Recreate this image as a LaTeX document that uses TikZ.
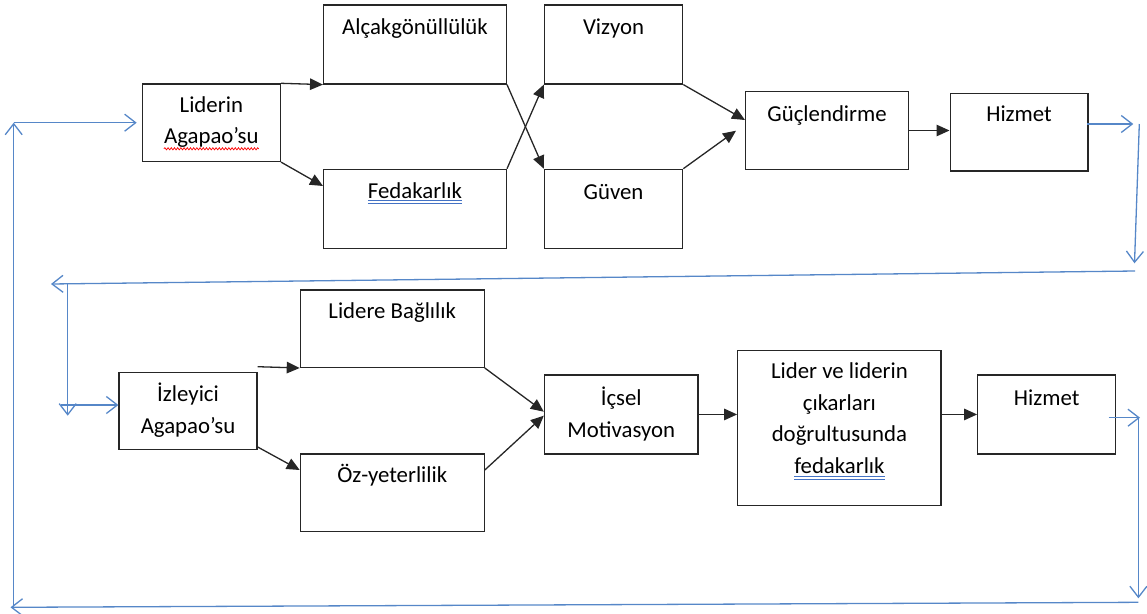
\documentclass[tikz,border=0pt]{standalone}
\usepackage{fontspec}
\setmainfont{Carlito}
\usetikzlibrary{arrows.meta,decorations.pathmorphing}
\definecolor{conn}{RGB}{86,135,200}
\definecolor{ulblue}{RGB}{68,114,196}
\begin{document}
\begin{tikzpicture}[x=1pt,y=-1pt,
  box/.style={draw=black!85, line width=1.3pt, inner sep=0pt, anchor=north west},
  lbl/.style={inner sep=0pt, anchor=base, font=\fontsize{22.8}{27}\selectfont},
  arr/.style={draw=black!85, line width=1.3pt, -{Triangle[length=13pt,width=11.5pt]}},
  fb/.style={conn, line width=1.3pt, -{Straight Barb[length=11pt,width=17pt,line width=1.3pt]}},
  wavy/.style={red, line width=0.7pt, decorate, decoration={snake, amplitude=1.1pt, segment length=3.2pt}},
  dbl/.style={ulblue, line width=0.9pt}]
\useasboundingbox (0,0) rectangle (1147,613);

% ---- top row boxes
\node[box, minimum width=182.7pt, minimum height=79pt] (alc) at (323,4.3) {};
\node[box, minimum width=138pt, minimum height=77.5pt] (lid) at (141.7,83.3) {};
\node[box, minimum width=182.7pt, minimum height=79pt] (fed) at (323,168.7) {};
\node[box, minimum width=138.2pt, minimum height=79pt] (viz) at (543.8,4.3) {};
\node[box, minimum width=138.2pt, minimum height=79pt] (guv) at (543.8,168.7) {};
\node[box, minimum width=162.9pt, minimum height=77.7pt] (guc) at (745,91) {};
\node[box, minimum width=137.8pt, minimum height=77.6pt] (hiz1) at (949.5,92.7) {};

% ---- bottom row boxes
\node[box, minimum width=138pt, minimum height=77.3pt] (izl) at (118.4,371.7) {};
\node[box, minimum width=183.8pt, minimum height=77.4pt] (lid2) at (299.7,289.3) {};
\node[box, minimum width=183.8pt, minimum height=77.4pt] (oz) at (299.7,453.3) {};
\node[box, minimum width=153.6pt, minimum height=79pt] (ics) at (543.8,374.3) {};
\node[box, minimum width=203.3pt, minimum height=154.7pt] (ldv) at (737.1,350) {};
\node[box, minimum width=137.8pt, minimum height=79pt] (hiz2) at (977.1,374.3) {};

% ---- labels
\node[lbl] (talc) at ([yshift=-30pt]alc.north) {Alçakgönüllülük};
\node[lbl] (tlid) at ([yshift=-29.4pt]lid.north) {Liderin};
\node[lbl] (tag1) at ([yshift=-60.5pt]lid.north) {Agapao’su};
\node[lbl] (tfed) at ([yshift=-30pt]fed.north) {Fedakarlık};
\node[lbl] (tviz) at ([yshift=-30.5pt]viz.north) {Vizyon};
\node[lbl] (tguv) at ([yshift=-30.5pt]guv.north) {Güven};
\node[lbl] (tguc) at ([yshift=-30.5pt]guc.north) {Güçlendirme};
\node[lbl] (thz1) at ([yshift=-29.2pt]hiz1.north) {Hizmet};

\node[lbl] (tizl) at ([yshift=-30pt]izl.north) {İzleyici};
\node[lbl] (tag2) at ([yshift=-61.5pt]izl.north) {Agapao’su};
\node[lbl] (tlb) at ([yshift=-29pt]lid2.north) {Lidere Bağlılık};
\node[lbl] (toz) at ([yshift=-29pt]oz.north) {Öz-yeterlilik};
\node[lbl] (tics) at ([yshift=-30.7pt]ics.north) {İçsel};
\node[lbl] (tmot) at ([yshift=-62.7pt]ics.north) {Motivasyon};
\node[lbl] (tl1) at ([yshift=-28.3pt]ldv.north) {Lider ve liderin};
\node[lbl] (tl2) at ([yshift=-60pt]ldv.north) {çıkarları};
\node[lbl] (tl3) at ([yshift=-91.8pt]ldv.north) {doğrultusunda};
\node[lbl] (tl4) at ([yshift=-123.8pt]ldv.north) {fedakarlık};
\node[lbl] (thz2) at ([yshift=-30.7pt]hiz2.north) {Hizmet};

% ---- proofing underlines
\draw[wavy] ([yshift=-5pt]tag1.base west) -- ([yshift=-5pt]tag1.base east);
\draw[dbl] ([yshift=-2.2pt]tfed.base west) -- ([yshift=-2.2pt]tfed.base east);
\draw[dbl] ([yshift=-5.2pt]tfed.base west) -- ([yshift=-5.2pt]tfed.base east);
\draw[dbl] ([yshift=-2.6pt]tl4.base west) -- ([yshift=-2.6pt]tl4.base east);
\draw[dbl] ([yshift=-5.6pt]tl4.base west) -- ([yshift=-5.6pt]tl4.base east);

% ---- black arrows, top
\draw[arr] (lid.north east) -- (alc.south west);
\draw[arr] (lid.south east) -- ([yshift=-17.3pt]fed.north west);
\draw[arr] (alc.south east) -- (guv.north west);
\draw[arr] (fed.north east) -- (viz.south west);
\draw[arr] (viz.south east) -- ([yshift=-29pt]guc.north west);
\draw[arr] (guv.north east) -- ([xshift=-9pt,yshift=-39.7pt]guc.north west);
\draw[arr] (guc.east) -- (guc.east -| hiz1.west);

% ---- black arrows, bottom
\draw[arr] ([yshift=5pt]izl.north east) -- (lid2.south west);
\draw[arr] ([yshift=3.3pt]izl.south east) -- ([yshift=-16.7pt]oz.north west);
\draw[arr] (lid2.south east) -- ([yshift=-37.4pt]ics.north west);
\draw[arr] ([yshift=-16.7pt]oz.north east) -- ([yshift=-41.4pt]ics.north west);
\draw[arr] (ics.east) -- (ics.east -| ldv.west);
\draw[arr] (hiz2.west -| ldv.east) -- (hiz2.west);

% ---- blue feedback connectors
\coordinate (h1s) at (1087.3,124);
\coordinate (h1o) at (1133.3,124);
\coordinate (r1t) at (1139.3,124);
\coordinate (r1b) at (1134.5,263.3);
\coordinate (m1r) at (1135,271);
\coordinate (m1l) at (51,284);
\coordinate (l2t) at (67.7,284);
\coordinate (l2b) at (67.7,415.7);
\coordinate (l2m) at (61,405);
\coordinate (h2s) at (1108.5,417.7);
\coordinate (h2o) at (1140,417.7);
\coordinate (r2t) at (1138.4,417.7);
\coordinate (r2b) at (1138.4,598.3);
\coordinate (b1r) at (1138.4,602.3);
\coordinate (b1l) at (10.5,607.3);
\coordinate (l1b) at (13.7,607.3);
\coordinate (l1t) at (13.7,122.7);
\coordinate (l1e) at (136.7,122.7);

\draw[fb] (h1s) -- (h1o);
\draw[fb] (r1t) -- (r1b);
\draw[fb] (m1r) -- (m1l);
\draw[fb] (l2t) -- (l2b);
\draw[fb] (l2m) -- (izl.west |- l2m);
\draw[fb] (h2s) -- (h2o);
\draw[fb] (r2t) -- (r2b);
\draw[fb] (b1r) -- (b1l);
\draw[fb] (l1b) -- (l1t);
\draw[fb] (l1t) -- (l1e);
\end{tikzpicture}
\end{document}
